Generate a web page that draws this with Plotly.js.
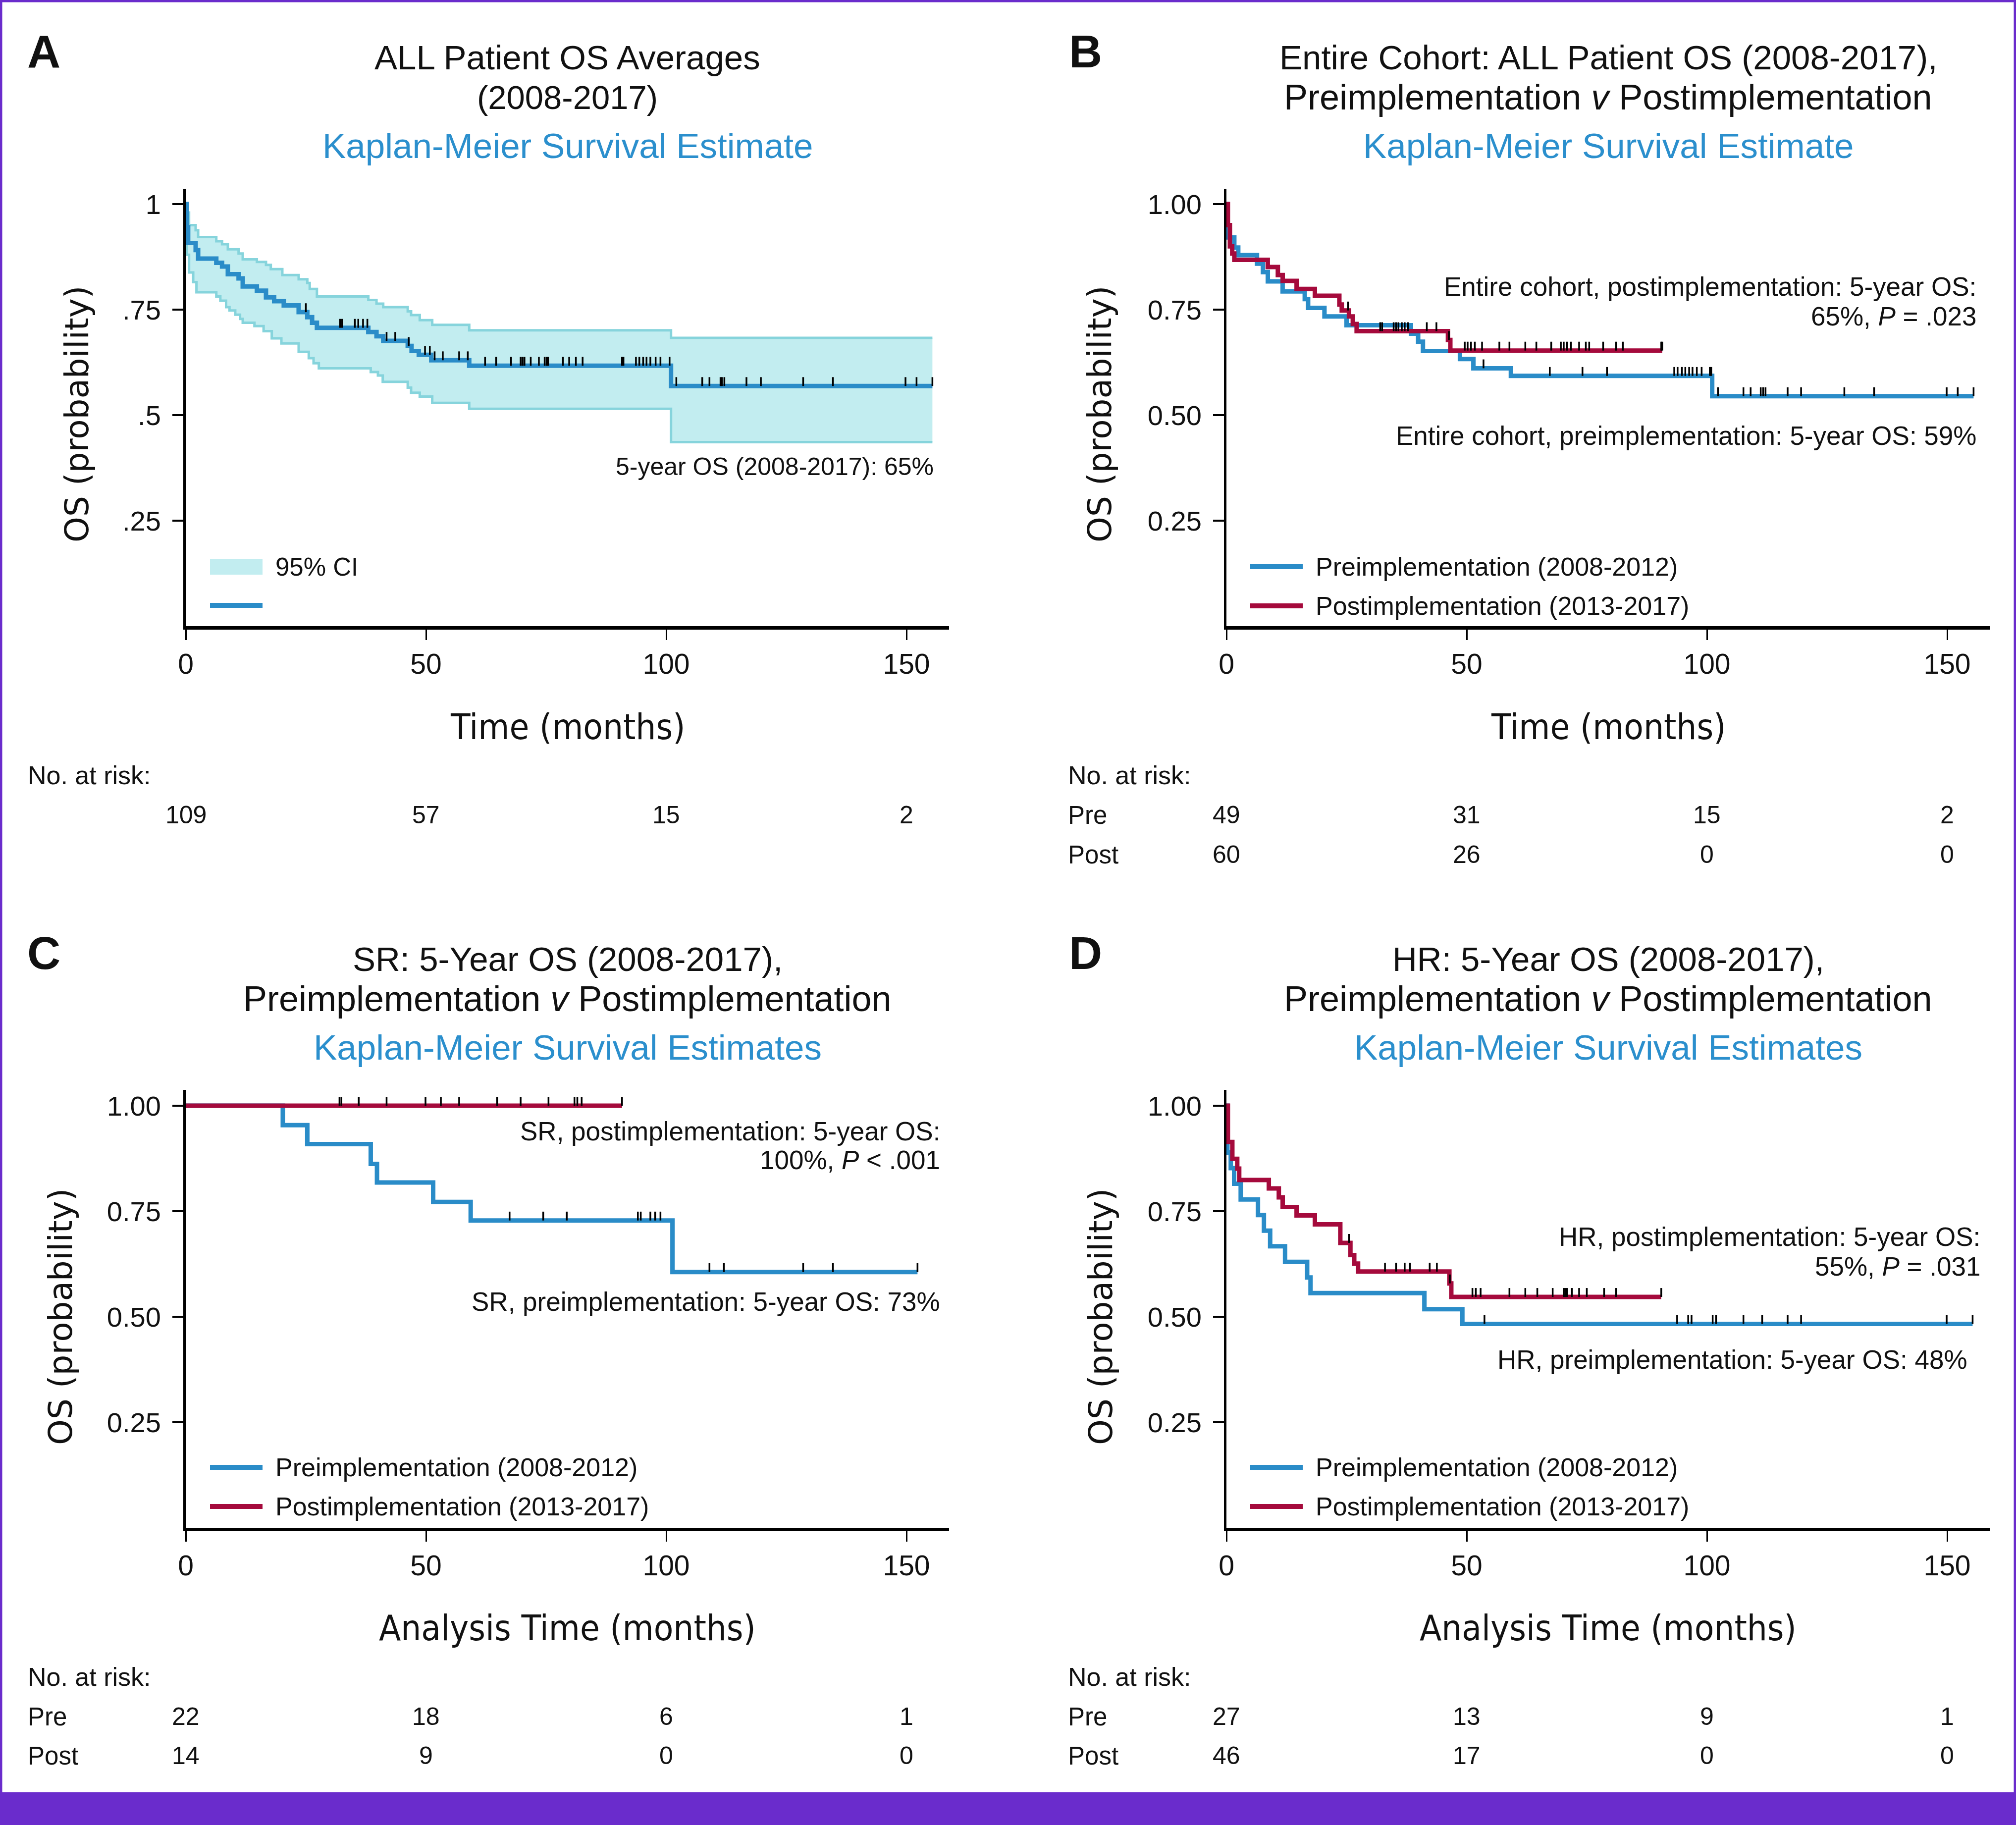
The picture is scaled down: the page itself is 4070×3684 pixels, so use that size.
<!DOCTYPE html>
<html>
<head>
<meta charset="utf-8">
<script src="https://cdn.plot.ly/plotly-3.0.1.min.js"></script>
<style>
  html, body { margin: 0; padding: 0; background: #fff; }
  #chart { width: 4070px; height: 3684px; }
</style>
</head>
<body>
<div id="chart"></div>
<script>
// ---- data (months, survival probability) ----
const xTicks = [0, 50, 100, 150];

// A: all patients, KM estimate + 95% CI
const aTime = [0, 0.2, 0.5, 2.06, 2.58, 6.36, 7.56, 8.76, 11.0, 11.86, 14.8, 16.7, 18.4, 20.4, 23.5, 25.3, 26.3, 27.3, 38.0, 39.7, 41.1, 46.2, 47.0, 48.5, 51.1, 59.0, 101.0, 155.4];
const aSurv = [1, 0.945, 0.908, 0.891, 0.871, 0.861, 0.852, 0.834, 0.824, 0.805, 0.795, 0.779, 0.770, 0.760, 0.744, 0.732, 0.719, 0.707, 0.697, 0.687, 0.676, 0.664, 0.652, 0.643, 0.630, 0.617, 0.569, 0.569];
const aLoTime = [0, 0.2, 0.69, 1.55, 2.23, 6.36, 7.2, 8.4, 9.1, 10.3, 11.3, 11.86, 14.3, 16.2, 17.9, 19.9, 23.5, 25.6, 26.6, 27.7, 38.5, 40.0, 41.0, 46.2, 46.9, 48.7, 51.3, 59.0, 101.0, 155.4];
const aLo = [1, 0.88, 0.838, 0.815, 0.791, 0.781, 0.771, 0.756, 0.748, 0.738, 0.728, 0.719, 0.711, 0.699, 0.682, 0.670, 0.650, 0.635, 0.623, 0.611, 0.602, 0.594, 0.579, 0.565, 0.553, 0.544, 0.529, 0.515, 0.436, 0.436];
const aHiTime = [0, 0.2, 0.69, 2.06, 2.58, 6.36, 7.56, 8.76, 11.0, 11.86, 14.8, 16.7, 17.7, 20.1, 23.5, 25.3, 25.8, 27.3, 38.0, 39.7, 41.1, 46.2, 46.9, 48.7, 51.3, 59.0, 101.0, 155.4];
const aHi = [1, 0.98, 0.950, 0.938, 0.922, 0.912, 0.905, 0.893, 0.883, 0.869, 0.863, 0.856, 0.846, 0.832, 0.822, 0.813, 0.799, 0.781, 0.773, 0.764, 0.756, 0.746, 0.737, 0.725, 0.714, 0.701, 0.683, 0.683];
const aCens = [25.0, 32.1, 32.5, 35.2, 35.9, 36.9, 37.8, 41.8, 43.6, 46.4, 49.8, 50.8, 51.8, 53.5, 56.9, 58.7, 62.3, 64.6, 67.7, 69.7, 70.1, 70.5, 71.8, 73.5, 74.7, 75.1, 75.4, 78.5, 79.8, 81.2, 82.6, 90.8, 91.1, 93.7, 94.4, 95.2, 95.9, 96.7, 97.8, 98.8, 100.7, 102.1, 107.5, 109.0, 111.3, 111.6, 112.1, 116.7, 119.7, 128.5, 134.7, 149.8, 152.1, 155.4];
const aRisk = [109, 57, 15, 2];

// B: entire cohort, pre vs post
const bPreTime = [0, 0.2, 0.41, 1.64, 2.46, 6.36, 7.59, 8.61, 11.69, 16.3, 17.0, 20.4, 25.0, 38.4, 39.9, 40.9, 48.6, 51.4, 59.2, 101.1, 155.5];
const bPreSurv = [1, 0.941, 0.921, 0.897, 0.879, 0.859, 0.839, 0.817, 0.793, 0.775, 0.754, 0.734, 0.713, 0.693, 0.674, 0.652, 0.633, 0.611, 0.593, 0.545, 0.545];
const bPostTime = [0, 0.3, 0.72, 1.2, 1.64, 8.6, 10.7, 11.7, 14.6, 18.4, 23.5, 24.0, 25.5, 26.3, 27.1, 46.1, 46.6, 90.7];
const bPostSurv = [1, 0.95, 0.90, 0.883, 0.868, 0.851, 0.832, 0.818, 0.799, 0.783, 0.762, 0.748, 0.734, 0.716, 0.699, 0.678, 0.653, 0.653];
const bPreCens = [53.5, 67.3, 74.1, 79.2, 93.2, 93.9, 94.8, 95.5, 96.3, 97.0, 97.9, 98.9, 100.6, 100.9, 102.3, 107.6, 109.1, 111.2, 111.7, 112.2, 116.8, 119.6, 128.6, 134.8, 149.9, 152.2, 155.5];
const bPostCens = [25.3, 32.0, 32.4, 34.8, 35.3, 35.8, 36.5, 37.1, 37.8, 41.7, 43.7, 46.3, 49.6, 50.2, 50.9, 51.7, 53.2, 56.8, 58.9, 62.2, 64.5, 67.6, 69.6, 70.2, 70.9, 71.7, 73.4, 74.8, 75.5, 78.4, 81.1, 82.5, 90.5, 90.7];
const bRiskPre = [49, 31, 15, 2];
const bRiskPost = [60, 26, 0, 0];

// C: standard risk
const cPreTime = [0, 20.2, 25.3, 38.5, 39.8, 51.5, 59.3, 101.3, 152.3];
const cPreSurv = [1, 0.954, 0.909, 0.862, 0.818, 0.772, 0.728, 0.606, 0.606];
const cPostTime = [0, 90.8];
const cPostSurv = [1, 1];
const cPreCens = [67.4, 74.4, 79.3, 94.1, 94.7, 96.7, 97.7, 98.8, 109.0, 112.0, 128.5, 134.7, 152.3];
const cPostCens = [32.0, 32.4, 36.0, 41.8, 49.9, 53.1, 56.9, 64.8, 69.7, 75.5, 80.9, 81.5, 82.4, 90.8];
const cRiskPre = [22, 18, 6, 1];
const cRiskPost = [14, 9, 0, 0];

// D: high risk
const dPreTime = [0, 0.2, 0.9, 1.6, 2.97, 6.56, 7.8, 9.1, 12.2, 16.8, 17.5, 41.2, 49.1, 155.3];
const dPreSurv = [1, 0.889, 0.852, 0.815, 0.778, 0.741, 0.704, 0.667, 0.630, 0.593, 0.556, 0.518, 0.483, 0.483];
const dPostTime = [0, 0.3, 1.23, 2.25, 2.66, 8.82, 10.9, 11.7, 14.6, 18.4, 23.7, 25.8, 26.6, 27.4, 46.4, 46.8, 90.5];
const dPostSurv = [1, 0.914, 0.874, 0.851, 0.824, 0.804, 0.783, 0.760, 0.740, 0.719, 0.675, 0.646, 0.626, 0.607, 0.579, 0.547, 0.547];
const dPreCens = [53.7, 93.8, 96.1, 96.8, 101.2, 101.9, 107.6, 111.5, 116.8, 119.6, 149.9, 155.3];
const dPostCens = [25.5, 33.0, 35.3, 37.1, 38.2, 42.3, 43.8, 46.5, 51.2, 51.9, 52.9, 58.9, 62.2, 64.7, 67.9, 70.2, 70.5, 70.9, 71.9, 73.4, 75.0, 78.6, 81.1, 90.5];
const dRiskPre = [27, 13, 9, 1];
const dRiskPost = [46, 17, 0, 0];

// ---- styling ----
const W = 4070, H = 3684;
const px = x => x / W;
const py = y => 1 - y / H;

const BLUE = '#2a8cc8';
const RED = '#a50a3c';
const CI_FILL = '#c2edf0';
const CI_EDGE = '#86d4dc';
const TITLE_BLUE = '#2b8fcd';
const PURPLE = '#6a2ccc';
const INK = '#111111';
const FONT = '"Liberation Sans", Arial, sans-serif';
const CONDENSED = '"DejaVu Sans Condensed", "Liberation Sans", sans-serif';
const YTITLE_FONT = '"DejaVu Sans", Verdana, sans-serif';
const TICK_UP = 0.021;   // censor mark height, in survival units

// survival value of a step curve at time t
function stepAt(times, surv, t) {
    let v = surv[0];
    for (let i = 0; i < times.length; i++) {
        if (times[i] <= t) v = surv[i];
    }
    return v;
}

function kmLine(times, surv, color, xa, ya) {
    return {
        x: times, y: surv, xaxis: xa, yaxis: ya,
        type: 'scatter', mode: 'lines',
        line: { shape: 'hv', color: color, width: 9 },
        hoverinfo: 'skip', showlegend: false
    };
}

function censorMarks(cens, times, surv, xa, ya) {
    return {
        x: cens, y: cens.map(t => stepAt(times, surv, t)),
        xaxis: xa, yaxis: ya,
        type: 'scatter', mode: 'markers',
        marker: { size: 1, color: 'rgba(0,0,0,0)' },
        error_y: {
            type: 'data', symmetric: false,
            array: cens.map(() => TICK_UP), arrayminus: cens.map(() => 0),
            width: 0, thickness: 3.5, color: '#000'
        },
        hoverinfo: 'skip', showlegend: false
    };
}

function ciLine(times, vals, xa, ya, fill) {
    return {
        x: times, y: vals, xaxis: xa, yaxis: ya,
        type: 'scatter', mode: 'lines',
        line: { shape: 'hv', color: CI_EDGE, width: 5 },
        fill: fill, fillcolor: CI_FILL,
        hoverinfo: 'skip', showlegend: false
    };
}

const traces = [
    // A
    ciLine(aLoTime, aLo, 'x', 'y', 'none'),
    ciLine(aHiTime, aHi, 'x', 'y', 'tonexty'),
    kmLine(aTime, aSurv, BLUE, 'x', 'y'),
    censorMarks(aCens, aTime, aSurv, 'x', 'y'),
    // B
    kmLine(bPreTime, bPreSurv, BLUE, 'x2', 'y2'),
    kmLine(bPostTime, bPostSurv, RED, 'x2', 'y2'),
    censorMarks(bPreCens, bPreTime, bPreSurv, 'x2', 'y2'),
    censorMarks(bPostCens, bPostTime, bPostSurv, 'x2', 'y2'),
    // C
    kmLine(cPreTime, cPreSurv, BLUE, 'x3', 'y3'),
    kmLine(cPostTime, cPostSurv, RED, 'x3', 'y3'),
    censorMarks(cPreCens, cPreTime, cPreSurv, 'x3', 'y3'),
    censorMarks(cPostCens, cPostTime, cPostSurv, 'x3', 'y3'),
    // D
    kmLine(dPreTime, dPreSurv, BLUE, 'x4', 'y4'),
    kmLine(dPostTime, dPostSurv, RED, 'x4', 'y4'),
    censorMarks(dPreCens, dPreTime, dPreSurv, 'x4', 'y4'),
    censorMarks(dPostCens, dPostTime, dPostSurv, 'x4', 'y4')
];

// ---- axes ----
const LEFT_COL = [375, 1916];
const RIGHT_COL = [2476, 4017];
const TOP_ROW = [381, 1264];
const BOT_ROW = [2200, 3084];
const PX_PER_UNIT = 852;

function xAxis(col, anchor) {
    return {
        domain: [px(col[0]), px(col[1])],
        range: [0, (col[1] - col[0]) / 9.7],
        anchor: anchor,
        tickvals: xTicks, ticktext: xTicks.map(String),
        ticks: 'outside', ticklen: 21, tickwidth: 3, tickcolor: '#000',
        showline: true, linewidth: 7, linecolor: '#000',
        showgrid: false, zeroline: false,
        tickfont: { family: FONT, size: 57, color: INK },
        ticklabelstandoff: 0,
        fixedrange: true
    };
}

function yAxis(row, anchor, labels) {
    return {
        domain: [py(row[1]), py(row[0])],
        range: [0, (row[1] - row[0]) / PX_PER_UNIT],
        anchor: anchor,
        tickvals: [0.25, 0.5, 0.75, 1], ticktext: labels,
        ticks: 'outside', ticklen: 22, tickwidth: 4, tickcolor: '#000',
        showline: true, linewidth: 5, linecolor: '#000',
        showgrid: false, zeroline: false,
        tickfont: { family: FONT, size: 56, color: INK },
        ticklabelstandoff: 12,
        fixedrange: true
    };
}

const shortLabels = ['.25', '.5', '.75', '1'];
const longLabels = ['0.25', '0.50', '0.75', '1.00'];

// ---- text ----
const annotations = [];

function paperText(text, x, y, size, opts = {}) {
    annotations.push(Object.assign({
        text: text, x: px(x), y: py(y), xref: 'paper', yref: 'paper',
        showarrow: false, xanchor: 'center', yanchor: 'middle',
        font: { family: FONT, size: size, color: INK }
    }, opts));
}

function plotText(text, x, y, xa, ya, size) {
    annotations.push({
        text: text, x: x, y: y, xref: xa, yref: ya,
        showarrow: false, xanchor: 'right', yanchor: 'middle',
        font: { family: FONT, size: size || 53, color: INK }
    });
}

function panelHeader(letter, letterX, letterY, lines, sizes, sub, centerX, ys) {
    paperText('<b>' + letter + '</b>', letterX, letterY, 93);
    paperText(lines[0], centerX, ys[0], sizes[0]);
    paperText(lines[1], centerX, ys[1], sizes[1]);
    paperText(sub, centerX, ys[2], 71, { font: { family: FONT, size: 71, color: TITLE_BLUE } });
}

function riskRow(values, xa, yPix) {
    values.forEach((v, i) => {
        annotations.push({
            text: String(v), x: xTicks[i], y: py(yPix), xref: xa, yref: 'paper',
            showarrow: false, xanchor: 'center', yanchor: 'middle',
            font: { family: FONT, size: 50, color: INK }
        });
    });
}

const midL = (LEFT_COL[0] + LEFT_COL[1]) / 2;
const midR = (RIGHT_COL[0] + RIGHT_COL[1]) / 2;
const prePost = 'Preimplementation <i>v</i> Postimplementation';

panelHeader('A', 88, 104, ['ALL Patient OS Averages', '(2008-2017)'], [69, 67],
    'Kaplan-Meier Survival Estimate', midL, [116, 196, 294]);
panelHeader('B', 2191, 104, ['Entire Cohort: ALL Patient OS (2008-2017),', prePost], [69, 72],
    'Kaplan-Meier Survival Estimate', midR, [116, 196, 294]);
panelHeader('C', 88, 1924, ['SR: 5-Year OS (2008-2017),', prePost], [69, 72],
    'Kaplan-Meier Survival Estimates', midL, [1936, 2016, 2114]);
panelHeader('D', 2191, 1924, ['HR: 5-Year OS (2008-2017),', prePost], [69, 72],
    'Kaplan-Meier Survival Estimates', midR, [1936, 2016, 2114]);

// y titles
const yTitleFont = { family: YTITLE_FONT, size: 66, color: INK };
[[155, 836], [2220, 836], [122, 2658], [2222, 2658]].forEach(p => {
    paperText('OS (probability)', p[0], p[1], 66, { textangle: -90, font: yTitleFont });
});
// x titles
const xTitleFont = { family: CONDENSED, size: 72, color: INK };
paperText('Time (months)', midL, 1467, 72, { font: xTitleFont });
paperText('Time (months)', midR, 1467, 72, { font: xTitleFont });
paperText('Analysis Time (months)', midL, 3286, 72, { font: xTitleFont });
paperText('Analysis Time (months)', midR, 3286, 72, { font: xTitleFont });

// in-plot notes
plotText('5-year OS (2008-2017): 65%', 155.9, 0.378, 'x', 'y', 50);
plotText('Entire cohort, postimplementation: 5-year OS:', 156.3, 0.804, 'x2', 'y2');
plotText('65%, <i>P</i> = .023', 156.3, 0.734, 'x2', 'y2');
plotText('Entire cohort, preimplementation: 5-year OS: 59%', 156.3, 0.451, 'x2', 'y2');
plotText('SR, postimplementation: 5-year OS:', 157.2, 0.939, 'x3', 'y3');
plotText('100%, <i>P</i> &lt; .001', 157.2, 0.872, 'x3', 'y3');
plotText('SR, preimplementation: 5-year OS: 73%', 157.2, 0.536, 'x3', 'y3');
plotText('HR, postimplementation: 5-year OS:', 157.1, 0.689, 'x4', 'y4');
plotText('55%, <i>P</i> = .031', 157.1, 0.619, 'x4', 'y4');
plotText('HR, preimplementation: 5-year OS: 48%', 154.4, 0.399, 'x4', 'y4');

// number at risk tables
const leftLabelL = { xanchor: 'left' };
paperText('No. at risk:', 54, 1565, 52, leftLabelL);
riskRow(aRisk, 'x', 1645);

paperText('No. at risk:', 2154, 1565, 52, leftLabelL);
paperText('Pre', 2154, 1645, 51, leftLabelL);
paperText('Post', 2154, 1725, 51, leftLabelL);
riskRow(bRiskPre, 'x2', 1645);
riskRow(bRiskPost, 'x2', 1725);

paperText('No. at risk:', 54, 3385, 52, leftLabelL);
paperText('Pre', 54, 3465, 51, leftLabelL);
paperText('Post', 54, 3544, 51, leftLabelL);
riskRow(cRiskPre, 'x3', 3465);
riskRow(cRiskPost, 'x3', 3544);

paperText('No. at risk:', 2154, 3385, 52, leftLabelL);
paperText('Pre', 2154, 3465, 51, leftLabelL);
paperText('Post', 2154, 3544, 51, leftLabelL);
riskRow(dRiskPre, 'x4', 3465);
riskRow(dRiskPost, 'x4', 3544);

// ---- legends (drawn by hand) and frame ----
const shapes = [];

function legendLine(x0, yPix, color) {
    shapes.push({
        type: 'line', xref: 'paper', yref: 'paper',
        x0: px(x0), x1: px(x0 + 106), y0: py(yPix), y1: py(yPix),
        line: { color: color, width: 10 }
    });
}

// A: CI swatch + line
shapes.push({
    type: 'rect', xref: 'paper', yref: 'paper',
    x0: px(424), x1: px(530), y0: py(1160), y1: py(1128),
    fillcolor: CI_FILL, line: { width: 0 }
});
paperText('95% CI', 554, 1144, 51, leftLabelL);
legendLine(424, 1222, BLUE);

// B, C, D: pre / post
[[2524, 1144], [424, 2962], [2524, 2962]].forEach(p => {
    legendLine(p[0], p[1], BLUE);
    legendLine(p[0], p[1] + 79, RED);
    paperText('Preimplementation (2008-2012)', p[0] + 130, p[1], 52, leftLabelL);
    paperText('Postimplementation (2013-2017)', p[0] + 130, p[1] + 79, 52, leftLabelL);
});

// purple frame and bottom band
shapes.push({
    type: 'rect', xref: 'paper', yref: 'paper', x0: 0, x1: 1, y0: 0, y1: 1,
    line: { color: PURPLE, width: 9 }, fillcolor: 'rgba(0,0,0,0)'
});
shapes.push({
    type: 'rect', xref: 'paper', yref: 'paper', x0: 0, x1: 1, y0: 0, y1: py(3618),
    line: { width: 0 }, fillcolor: PURPLE
});

const layout = {
    width: W, height: H,
    margin: { l: 0, r: 0, t: 0, b: 0 },
    paper_bgcolor: '#ffffff', plot_bgcolor: 'rgba(0,0,0,0)',
    showlegend: false,
    font: { family: FONT, color: INK },
    xaxis: xAxis(LEFT_COL, 'y'),
    yaxis: yAxis(TOP_ROW, 'x', shortLabels),
    xaxis2: xAxis(RIGHT_COL, 'y2'),
    yaxis2: yAxis(TOP_ROW, 'x2', longLabels),
    xaxis3: xAxis(LEFT_COL, 'y3'),
    yaxis3: yAxis(BOT_ROW, 'x3', longLabels),
    xaxis4: xAxis(RIGHT_COL, 'y4'),
    yaxis4: yAxis(BOT_ROW, 'x4', longLabels),
    annotations: annotations,
    shapes: shapes
};

Plotly.newPlot('chart', traces, layout, { staticPlot: true, displayModeBar: false });
</script>
</body>
</html>
